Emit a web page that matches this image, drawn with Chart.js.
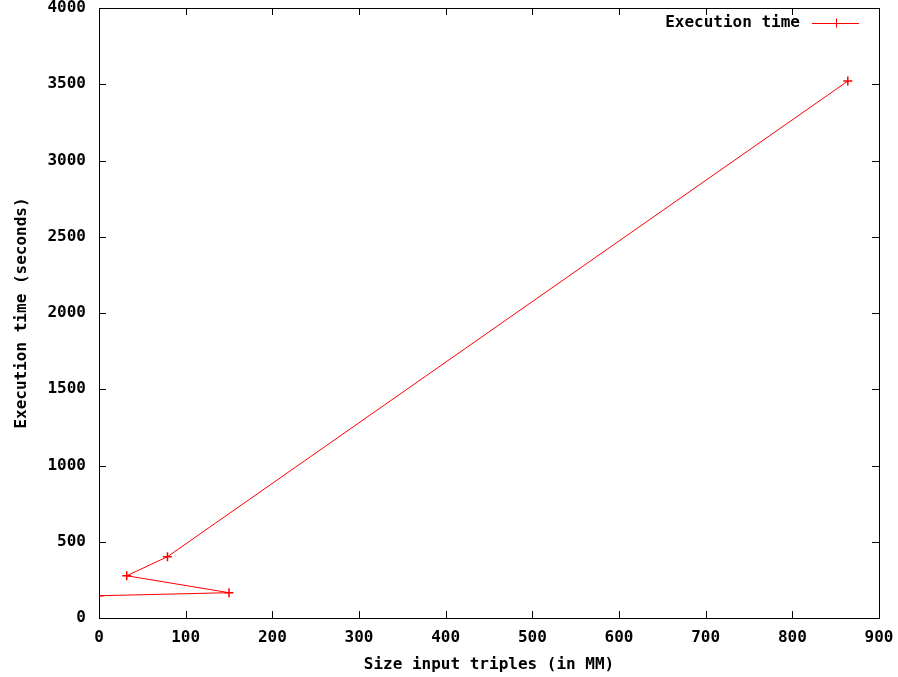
<!DOCTYPE html>
<html>
<head>
<meta charset="utf-8">
<script src="https://cdn.jsdelivr.net/npm/chart.js@4/dist/chart.umd.min.js"></script>
<style>
html,body{margin:0;padding:0;background:#fff;}
#wrap{width:898px;height:677px;position:relative;}
</style>
</head>
<body>
<div id="wrap"><canvas id="c" width="898" height="677"></canvas></div>
<script>
const seriesName = "Execution time";
const sizeTriples = [0, 150, 32, 79, 864];          // MM triples
const execSeconds = [146, 166, 277, 402, 3521];      // seconds
const xTicks = [0, 100, 200, 300, 400, 500, 600, 700, 800, 900];
const yTicks = [0, 500, 1000, 1500, 2000, 2500, 3000, 3500, 4000];
const xTitle = "Size input triples (in MM)";
const yTitle = "Execution time (seconds)";

const FONT = "'DejaVu Sans Mono', 'Liberation Mono', monospace";
const RED = "#ff0000";

const framePlugin = {
  id: 'frame',
  afterDatasetsDraw(chart) {
    const {ctx, chartArea: a, scales} = chart;
    ctx.save();
    ctx.strokeStyle = '#000';
    ctx.lineWidth = 1;
    ctx.strokeRect(a.left + 0.5, a.top + 0.5, a.right - a.left, a.bottom - a.top);
    const tl = 7;
    ctx.beginPath();
    xTicks.forEach(v => {
      const px = Math.round(scales.x.getPixelForValue(v)) + 0.5;
      ctx.moveTo(px, a.bottom); ctx.lineTo(px, a.bottom - tl);
      ctx.moveTo(px, a.top); ctx.lineTo(px, a.top + tl);
    });
    yTicks.forEach(v => {
      const py = Math.round(scales.y.getPixelForValue(v)) + 0.5;
      ctx.moveTo(a.left, py); ctx.lineTo(a.left + tl, py);
      ctx.moveTo(a.right, py); ctx.lineTo(a.right - tl, py);
    });
    ctx.stroke();
    // legend (key) top right, gnuplot style
    const ty = a.top + 15;
    const lineEnd = a.right - 20;
    const lineStart = lineEnd - 47;
    ctx.font = "bold 16px " + FONT;
    ctx.fillStyle = '#000';
    ctx.textAlign = 'right';
    ctx.textBaseline = 'middle';
    ctx.fillText(seriesName, lineStart - 12, ty);
    ctx.strokeStyle = RED;
    ctx.beginPath();
    ctx.moveTo(lineStart, ty + 0.5); ctx.lineTo(lineEnd, ty + 0.5);
    const mx = Math.round((lineStart + lineEnd) / 2) + 0.5;
    ctx.moveTo(mx, ty - 4.5); ctx.lineTo(mx, ty + 4.5);
    ctx.stroke();
    ctx.restore();
  }
};

new Chart(document.getElementById('c'), {
  type: 'scatter',
  data: {
    datasets: [{
      label: seriesName,
      data: sizeTriples.map((x, i) => ({x: x, y: execSeconds[i]})),
      showLine: true,
      borderColor: RED,
      backgroundColor: RED,
      borderWidth: 1,
      pointStyle: 'cross',
      pointRadius: 4.5,
      pointBorderWidth: 1.5,
      pointBorderColor: RED,
      tension: 0
    }]
  },
  options: {
    responsive: false,
    animation: false,
    devicePixelRatio: 1,
    layout: {padding: {left: 0, right: 19, top: 8, bottom: 0}},
    plugins: {legend: {display: false}, tooltip: {enabled: false}},
    scales: {
      x: {
        type: 'linear', min: 0, max: 900,
        afterBuildTicks: s => { s.ticks = xTicks.map(v => ({value: v})); },
        afterFit: s => { s.height = 59; s.paddingLeft = 0; s.paddingRight = 0; },
        grid: {display: false},
        border: {display: false},
        ticks: {color: '#000', padding: 2, callback: v => String(v), font: {family: FONT, size: 16, weight: 'bold'}, maxRotation: 0, autoSkip: false},
        title: {display: true, text: xTitle, color: '#000', padding: {top: 4, bottom: 3}, font: {family: FONT, size: 16, weight: 'bold'}}
      },
      y: {
        type: 'linear', min: 0, max: 4000,
        afterBuildTicks: s => { s.ticks = yTicks.map(v => ({value: v})); },
        afterFit: s => { s.width = 99; s.paddingTop = 0; s.paddingBottom = 0; },
        grid: {display: false},
        border: {display: false},
        ticks: {color: '#000', padding: 5, callback: v => String(v), font: {family: FONT, size: 16, weight: 'bold'}, autoSkip: false},
        title: {display: true, text: yTitle, color: '#000', padding: {top: 12, bottom: 4}, font: {family: FONT, size: 16, weight: 'bold'}}
      }
    }
  },
  plugins: [framePlugin]
});
</script>
</body>
</html>
